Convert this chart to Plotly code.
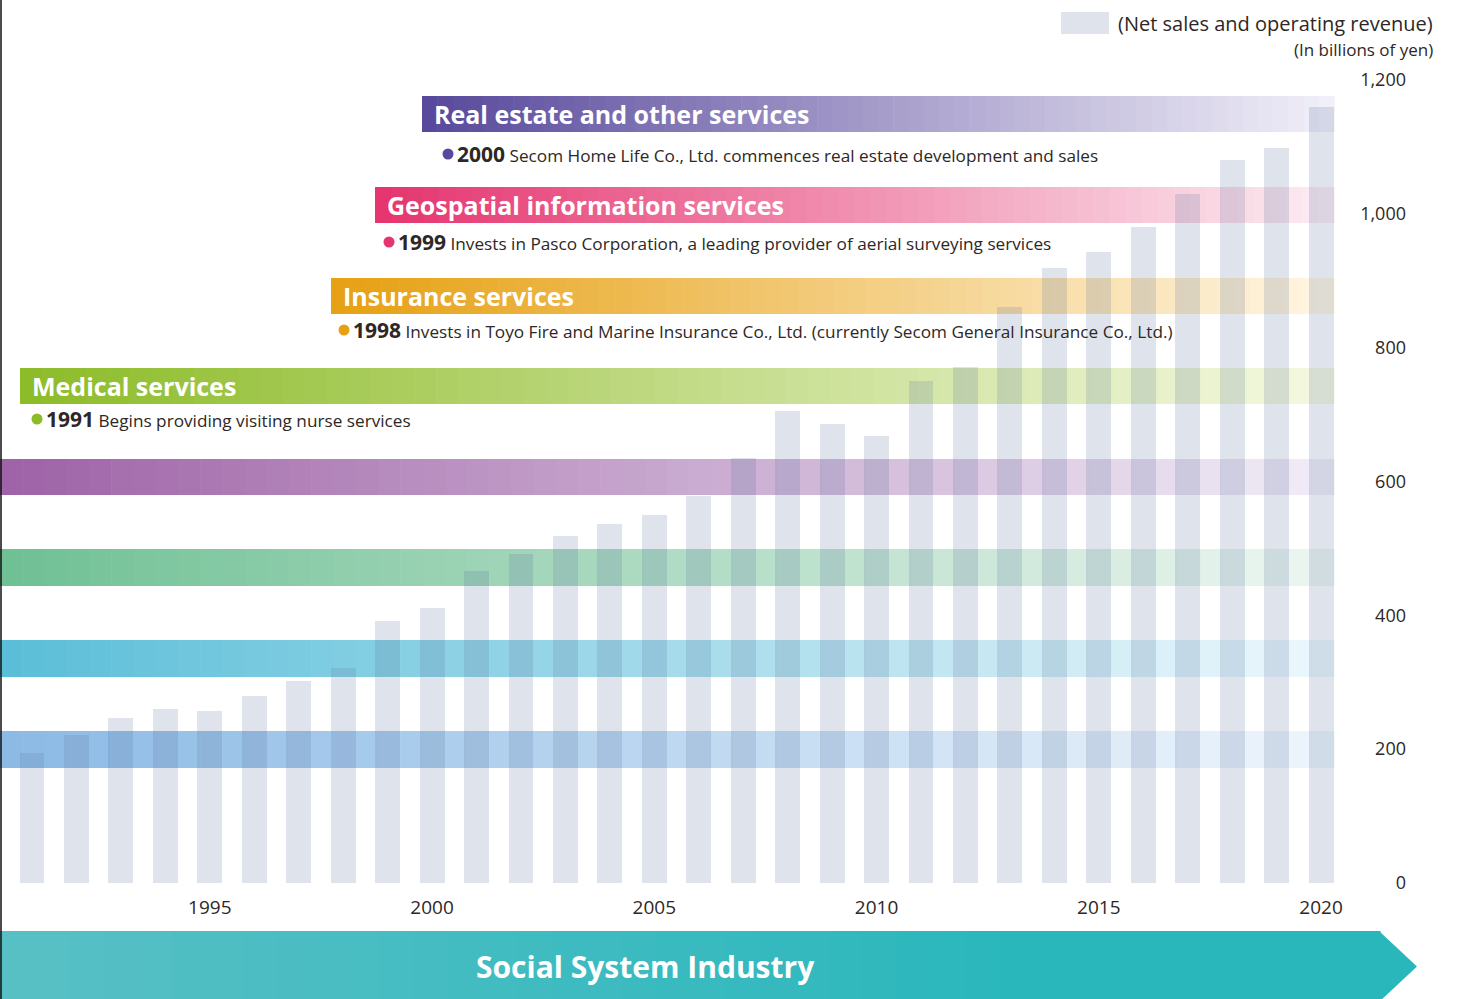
import plotly.graph_objects as go

# ---------------- data ----------------
years = list(range(1991, 2021))
revenue = [194, 221, 247, 260, 257, 279, 302, 321, 392, 411,
           466, 492, 519, 536, 550, 578, 635, 705, 686, 668,
           750, 771, 861, 919, 943, 980, 1030, 1080, 1098, 1160]

x_tick_years = [1995, 2000, 2005, 2010, 2015, 2020]
y_tick_values = [0, 200, 400, 600, 800, 1000, 1200]
y_tick_labels = ["0", "200", "400", "600", "800", "1,000", "1,200"]

segment_names = ["Real estate and other services",
                 "Geospatial information services",
                 "Insurance services",
                 "Medical services"]
segment_years = ["2000", "1999", "1998", "1991"]
segment_events = ["Secom Home Life Co., Ltd. commences real estate development and sales",
                  "Invests in Pasco Corporation, a leading provider of aerial surveying services",
                  "Invests in Toyo Fire and Marine Insurance Co., Ltd. (currently Secom General Insurance Co., Ltd.)",
                  "Begins providing visiting nurse services"]
segment_colors = [((88, 72, 155), (242, 240, 249)),
                  ((229, 52, 111), (252, 237, 243)),
                  ((230, 160, 18), (255, 246, 228)),
                  ((140, 187, 40), (245, 249, 226))]
base_colors = [((158, 98, 166), (241, 237, 247)),
               ((111, 192, 148), (238, 246, 242)),
               ((90, 190, 216), (237, 247, 252)),
               ((139, 186, 229), (239, 245, 252))]

legend_label = "(Net sales and operating revenue)"
unit_label = "(In billions of yen)"
footer_label = "Social System Industry"

# ---------------- layout helpers ----------------
W, H = 1470, 999
FONT = "Open Sans"
TEXT = "#2e2725"


def px(x):
    return x / W


def py(y):
    return 1 - y / H


def mix(c0, c1, t):
    return "rgb(%d,%d,%d)" % tuple(round(a + (b - a) * t) for a, b in zip(c0, c1))


shapes = []
annotations = []


def gradient_band(x0, x1, y0, y1, c0, c1, n=60, t_end=1.0):
    w = (x1 - x0) / n
    for i in range(n):
        t = min(1.0, (i + 0.5) / n / t_end)
        shapes.append(dict(type="rect", xref="paper", yref="paper",
                           x0=px(x0 + i * w), x1=px(x0 + (i + 1) * w + 0.6),
                           y0=py(y1), y1=py(y0), line=dict(width=0),
                           fillcolor=mix(c0, c1, t), layer="below"))


BAND_END = 1334
labeled_x0 = [422, 375, 331, 20]
labeled_y = [(96, 132), (187, 223), (278, 314), (368, 404)]
event_y = [154, 242, 330, 419]
bullet_x = [448, 389, 344, 37]
base_y = [(459, 495), (549, 586), (640, 677), (731, 768)]

for (c0, c1), (y0, y1) in zip(base_colors, base_y):
    gradient_band(0, BAND_END, y0, y1, c0, c1)

for i, name in enumerate(segment_names):
    c0, c1 = segment_colors[i]
    x0 = labeled_x0[i]
    y0, y1 = labeled_y[i]
    gradient_band(x0, BAND_END, y0, y1, c0, c1)
    annotations.append(dict(xref="paper", yref="paper", x=px(x0 + 10), y=py((y0 + y1) / 2),
                            xanchor="left", yanchor="middle", showarrow=False,
                            text="<b>%s</b>" % name,
                            font=dict(family=FONT, size=25, color="white")))
    bx, by = bullet_x[i], event_y[i]
    shapes.append(dict(type="circle", xref="paper", yref="paper",
                       x0=px(bx - 5.5), x1=px(bx + 5.5), y0=py(by + 5.5), y1=py(by - 5.5),
                       fillcolor="rgb(%d,%d,%d)" % c0, line=dict(width=0)))
    annotations.append(dict(xref="paper", yref="paper", x=px(bx + 7), y=py(by),
                            xanchor="left", yanchor="middle", showarrow=False,
                            text='<b style="font-size:21px">%s</b> %s' % (segment_years[i], segment_events[i]),
                            font=dict(family=FONT, size=17.2, color=TEXT)))

# bottom arrow
arrow_c0, arrow_c1 = (88, 192, 197), (41, 183, 188)
gradient_band(0, 1380, 931, 1002, arrow_c0, arrow_c1, n=40, t_end=0.75)
shapes.append(dict(type="path", xref="paper", yref="paper",
                   path="M %f %f L %f %f L %f %f Z" % (px(1379), py(931), px(1417), py(966.5),
                                                        px(1379), py(1002)),
                   fillcolor="rgb(41,183,188)", line=dict(width=0), layer="below"))
annotations.append(dict(xref="paper", yref="paper", x=px(645), y=py(966),
                        xanchor="center", yanchor="middle", showarrow=False,
                        text="<b>%s</b>" % footer_label,
                        font=dict(family=FONT, size=30, color="white")))

# legend
shapes.append(dict(type="rect", xref="paper", yref="paper", x0=px(1061), x1=px(1109),
                   y0=py(34), y1=py(12), fillcolor="#dfe4ec", line=dict(width=0), layer="below"))
annotations.append(dict(xref="paper", yref="paper", x=px(1435), y=py(23),
                        xanchor="right", yanchor="middle", showarrow=False, text=legend_label,
                        font=dict(family=FONT, size=20, color=TEXT)))
annotations.append(dict(xref="paper", yref="paper", x=px(1435), y=py(49),
                        xanchor="right", yanchor="middle", showarrow=False, text=unit_label,
                        font=dict(family=FONT, size=17, color=TEXT)))

# left edge line
shapes.append(dict(type="line", xref="paper", yref="paper", x0=px(1), x1=px(1), y0=0, y1=1,
                   line=dict(color="#111111", width=1.5)))

# ---------------- figure ----------------
fig = go.Figure()
fig.add_trace(go.Bar(x=years, y=revenue, width=0.56,
                     marker=dict(color="rgba(95,120,160,0.2)", line=dict(width=0)),
                     showlegend=False, hoverinfo="x+y"))

px_per_year = 44.45
x_start = 1991 - 32 / px_per_year
x_end = x_start + BAND_END / px_per_year
units_per_px = 1200 / 803
y_lo = -(H - 883) * units_per_px
y_hi = 883 * units_per_px

fig.update_layout(
    width=W, height=H, margin=dict(l=0, r=0, t=0, b=0, pad=0, autoexpand=False),
    paper_bgcolor="white", plot_bgcolor="rgba(0,0,0,0)",
    shapes=shapes, annotations=annotations, showlegend=False,
    xaxis=dict(domain=[0, px(BAND_END)], range=[x_start, x_end], anchor="free",
               position=py(883), tickvals=x_tick_years, ticks="", showline=False,
               showgrid=False, zeroline=False, ticklabelstandoff=11, automargin=False,
               tickfont=dict(family=FONT, size=19, color=TEXT), fixedrange=True),
    yaxis=dict(domain=[0, 1], range=[y_lo, y_hi], anchor="free", side="left",
               position=px(1406), tickvals=y_tick_values, ticktext=y_tick_labels,
               ticks="", showline=False, showgrid=False, zeroline=False,
               ticklabelstandoff=0, automargin=False,
               tickfont=dict(family=FONT, size=18, color=TEXT), fixedrange=True),
    bargap=0,
)

fig.write_html("out.html")
